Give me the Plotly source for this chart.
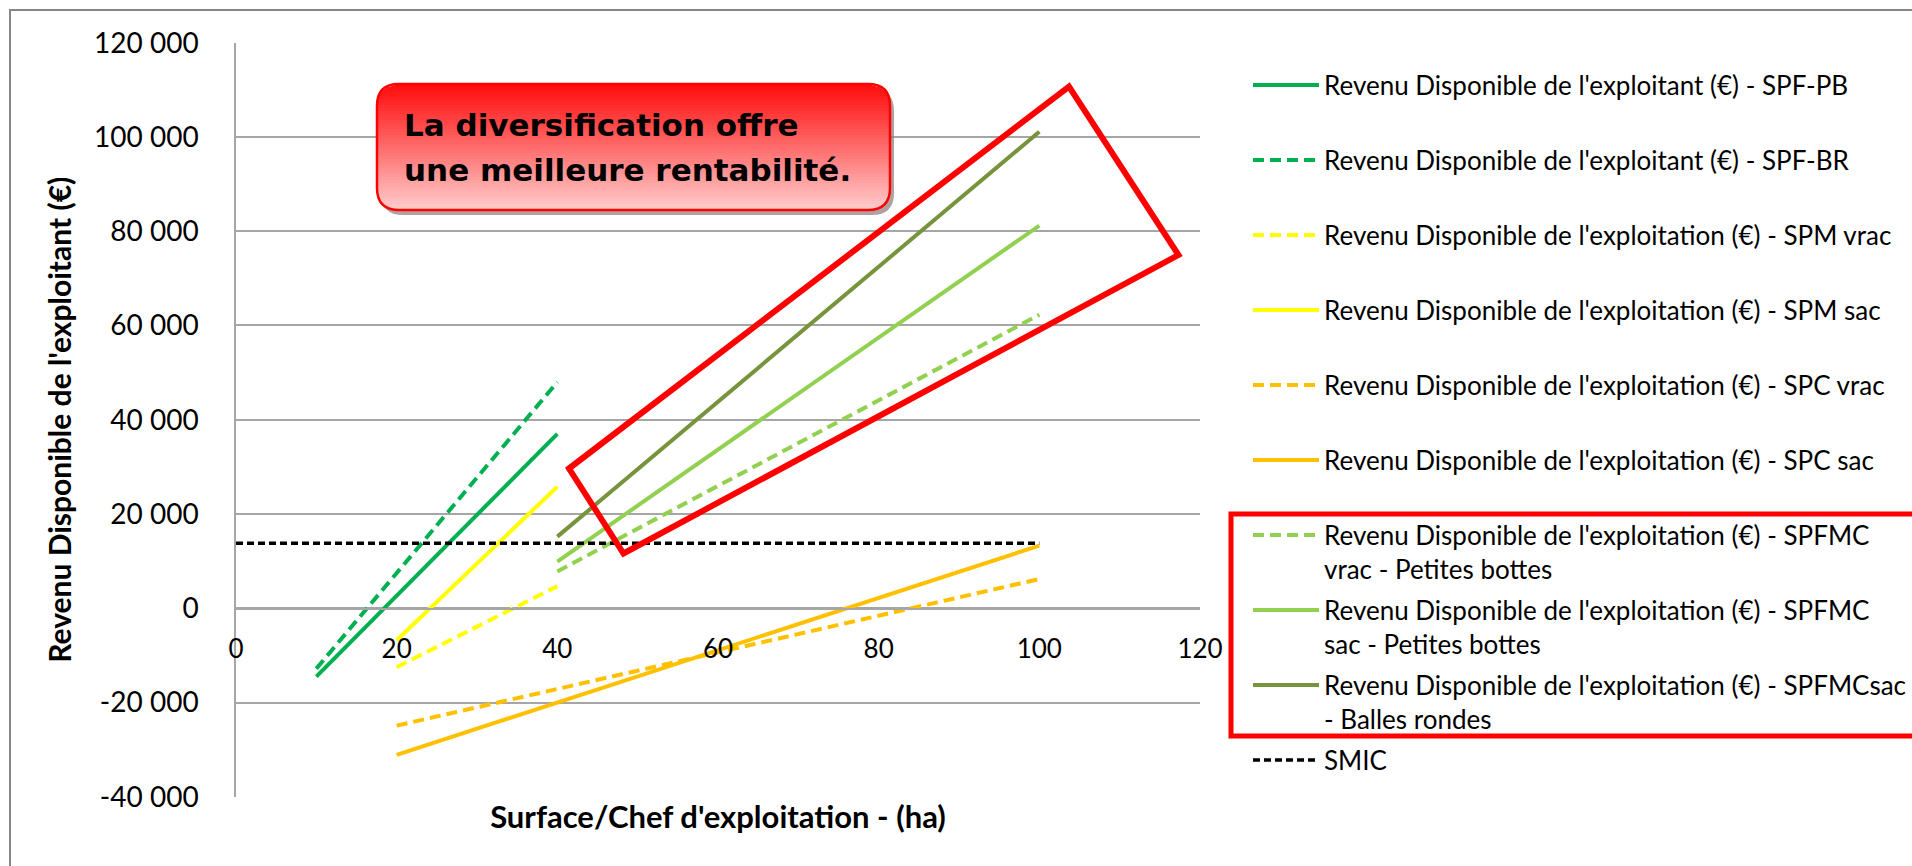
import math
import plotly.graph_objects as go

W, H = 1912, 866

# ---------------- data ----------------
surface_spf = [10, 40]
rev_spf_pb = [-14500, 37000]
rev_spf_br = [-12800, 48000]

surface_spm = [20, 40]
rev_spm_vrac = [-12500, 4700]
rev_spm_sac = [-6800, 25800]

surface_spc = [20, 100]
rev_spc_vrac = [-24900, 6200]
rev_spc_sac = [-31100, 13300]

surface_spfmc = [40, 100]
rev_spfmc_vrac_pb = [7800, 62300]
rev_spfmc_sac_pb = [9900, 81200]
rev_spfmcsac_br = [15200, 101100]

surface_smic = [0, 100]
smic = [13800, 13800]

x_ticks = [0, 20, 40, 60, 80, 100, 120]
y_ticks = [-40000, -20000, 0, 20000, 40000, 60000, 80000, 100000, 120000]
y_tick_labels = ["-40 000", "-20 000", "0", "20 000", "40 000", "60 000",
                 "80 000", "100 000", "120 000"]

names = [
    "Revenu Disponible de l'exploitant (€) - SPF-PB",
    "Revenu Disponible de l'exploitant (€) - SPF-BR",
    "Revenu Disponible de l'exploitation (€) - SPM vrac",
    "Revenu Disponible de l'exploitation (€) - SPM sac",
    "Revenu Disponible de l'exploitation (€) - SPC vrac",
    "Revenu Disponible de l'exploitation (€) - SPC sac",
    "Revenu Disponible de l'exploitation (€) - SPFMC<br>vrac - Petites bottes",
    "Revenu Disponible de l'exploitation (€) - SPFMC<br>sac - Petites bottes",
    "Revenu Disponible de l'exploitation (€) - SPFMCsac<br>- Balles rondes",
    "SMIC",
]

callout_lines = ["La diversification offre", "une meilleure rentabilité."]

# ---------------- helpers (pixel -> paper) ----------------
def px(x):
    return x / W


def py(y):
    return 1 - y / H


def path_from_points(pts, close=True):
    s = "M " + " L ".join(f"{px(x):.5f},{py(y):.5f}" for x, y in pts)
    return s + (" Z" if close else "")


def rounded_rect_path(x0, y0, x1, y1, r):
    def P(x, y):
        return f"{px(x):.5f},{py(y):.5f}"
    return (f"M {P(x0 + r, y0)} L {P(x1 - r, y0)} Q {P(x1, y0)} {P(x1, y0 + r)} "
            f"L {P(x1, y1 - r)} Q {P(x1, y1)} {P(x1 - r, y1)} "
            f"L {P(x0 + r, y1)} Q {P(x0, y1)} {P(x0, y1 - r)} "
            f"L {P(x0, y0 + r)} Q {P(x0, y0)} {P(x0 + r, y0)} Z")


GREEN = "#00B050"
YELLOW = "#FFFF00"
ORANGE = "#FFC000"
LGREEN = "#92D050"
OLIVE = "#77933C"
DASH = "11px,6px"

fig = go.Figure()

specs = [
    (surface_spf, rev_spf_pb, GREEN, "solid", "legend"),
    (surface_spf, rev_spf_br, GREEN, DASH, "legend"),
    (surface_spm, rev_spm_vrac, YELLOW, DASH, "legend"),
    (surface_spm, rev_spm_sac, YELLOW, "solid", "legend"),
    (surface_spc, rev_spc_vrac, ORANGE, DASH, "legend"),
    (surface_spc, rev_spc_sac, ORANGE, "solid", "legend"),
    (surface_spfmc, rev_spfmc_vrac_pb, LGREEN, DASH, "legend2"),
    (surface_spfmc, rev_spfmc_sac_pb, LGREEN, "solid", "legend2"),
    (surface_spfmc, rev_spfmcsac_br, OLIVE, "solid", "legend2"),
]
for i, (xs, ys, col, dash, leg) in enumerate(specs):
    fig.add_trace(go.Scatter(
        x=xs, y=ys, mode="lines", name=names[i],
        line=dict(color=col, width=4, dash=dash),
        legend=leg, legendgroup=f"g{i}",
    ))
fig.add_trace(go.Scatter(
    x=surface_smic, y=smic, mode="lines", name=names[9],
    line=dict(color="black", width=3.5, dash="7px,4px"),
    legend="legend2", legendgroup="g9",
))

# ---------------- geometry ----------------
PL, PR = 236, 1200          # plot left/right in px
PT, PB = 42.7, 796.8        # plot top/bottom in px
Y0PX = 608.5                # pixel of y = 0

GRID = "#A6A6A6"
LEGFONT = dict(family="Lato", size=26, color="black")

fig.update_layout(
    width=W, height=H,
    margin=dict(l=0, r=0, t=0, b=0, autoexpand=False),
    paper_bgcolor="white", plot_bgcolor="white",
    showlegend=True,
    xaxis=dict(
        domain=[px(PL), px(PR)], range=[0, 120],
        tickvals=x_ticks, ticktext=[str(v) for v in x_ticks],
        tickfont=dict(family="Lato", size=26, color="black"),
        showgrid=False, zeroline=False,
        showline=True, linecolor=GRID, linewidth=1.5,
        anchor="free", position=py(Y0PX), automargin=False,
        ticks="", ticklabelstandoff=18,
        title=dict(text="<b>Surface/Chef d'exploitation - (ha)</b>",
                   font=dict(family="Lato", size=31, color="black"),
                   standoff=142),
    ),
    yaxis=dict(
        domain=[py(PB), py(PT)], range=[-40000, 120000],
        tickvals=y_ticks, ticktext=y_tick_labels,
        tickfont=dict(family="Lato", size=28, color="black"),
        showgrid=True, gridcolor=GRID, gridwidth=1.5,
        zeroline=False,
        showline=True, linecolor=GRID, linewidth=1.5,
        anchor="x", automargin=False,
        ticks="", ticklabelstandoff=30,
        title=dict(text="<b>Revenu Disponible de l'exploitant (€)</b>",
                   font=dict(family="Lato", size=30, color="black"),
                   standoff=14),
    ),
    legend=dict(
        x=px(1248), y=py(61.6), xanchor="left", yanchor="top",
        font=LEGFONT,
        itemwidth=66, tracegroupgap=38.2, traceorder="grouped",
        bgcolor="rgba(0,0,0,0)", valign="top",
    ),
    legend2=dict(
        x=px(1248), y=py(511.6), xanchor="left", yanchor="top",
        font=LEGFONT,
        itemwidth=66, tracegroupgap=4.4, traceorder="grouped",
        bgcolor="rgba(0,0,0,0)", valign="top",
    ),
)

shapes = []
# outer chart border
shapes.append(dict(type="rect", xref="paper", yref="paper",
                   x0=px(10), x1=px(1930), y0=py(10), y1=py(890),
                   line=dict(color="#868686", width=2), fillcolor="rgba(0,0,0,0)"))

# callout box: shadow, gradient strips, border
bx0, by0, bx1, by1, br = 377, 84, 890, 210, 22
shapes.append(dict(type="path", xref="paper", yref="paper",
                   path=rounded_rect_path(bx0 + 4, by0 + 5, bx1 + 4, by1 + 5, br),
                   fillcolor="rgba(150,130,130,0.75)", line=dict(width=0)))


def inset(y):
    if y < by0 + br:
        d = by0 + br - y
        return br - math.sqrt(max(br * br - d * d, 0))
    if y > by1 - br:
        d = y - (by1 - br)
        return br - math.sqrt(max(br * br - d * d, 0))
    return 0.0


n = 42
step = (by1 - by0) / n
for k in range(n):
    ya = by0 + k * step
    yb = min(by0 + (k + 1) * step + 0.6, by1)
    t = (ya + step / 2 - by0) / (by1 - by0)
    g = int(round(10 + t * 195))
    col = f"rgb(255,{g},{g})"
    pts = [(bx0 + inset(ya), ya), (bx1 - inset(ya), ya),
           (bx1 - inset(yb), yb), (bx0 + inset(yb), yb)]
    shapes.append(dict(type="path", xref="paper", yref="paper",
                       path=path_from_points(pts), fillcolor=col,
                       line=dict(width=0)))
shapes.append(dict(type="path", xref="paper", yref="paper",
                   path=rounded_rect_path(bx0, by0, bx1, by1, br),
                   fillcolor="rgba(0,0,0,0)", line=dict(color="#FF0000", width=2.5)))

# rotated red frame around diversification lines
shapes.append(dict(type="path", xref="paper", yref="paper",
                   path=path_from_points([(569, 468.5), (1069, 86.5), (1178.5, 255), (623.5, 553.5)]),
                   fillcolor="rgba(0,0,0,0)", line=dict(color="#FF0000", width=6)))
# red frame around legend entries
shapes.append(dict(type="rect", xref="paper", yref="paper",
                   x0=px(1231), x1=px(1930), y0=py(514), y1=py(736),
                   line=dict(color="#FF0000", width=5), fillcolor="rgba(0,0,0,0)"))

fig.update_layout(shapes=shapes)

for line_text, ycen in zip(callout_lines, [125, 170]):
    fig.add_annotation(
        xref="paper", yref="paper", x=px(402), y=py(ycen),
        xanchor="left", yanchor="middle", align="left", showarrow=False,
        text=f"<b>{line_text}</b>",
        font=dict(family="DejaVu Sans", size=31, color="black"),
    )

fig.write_html("out.html", config={"displayModeBar": False},
               post_script="document.body.style.margin='0';document.body.style.overflow='hidden';")
